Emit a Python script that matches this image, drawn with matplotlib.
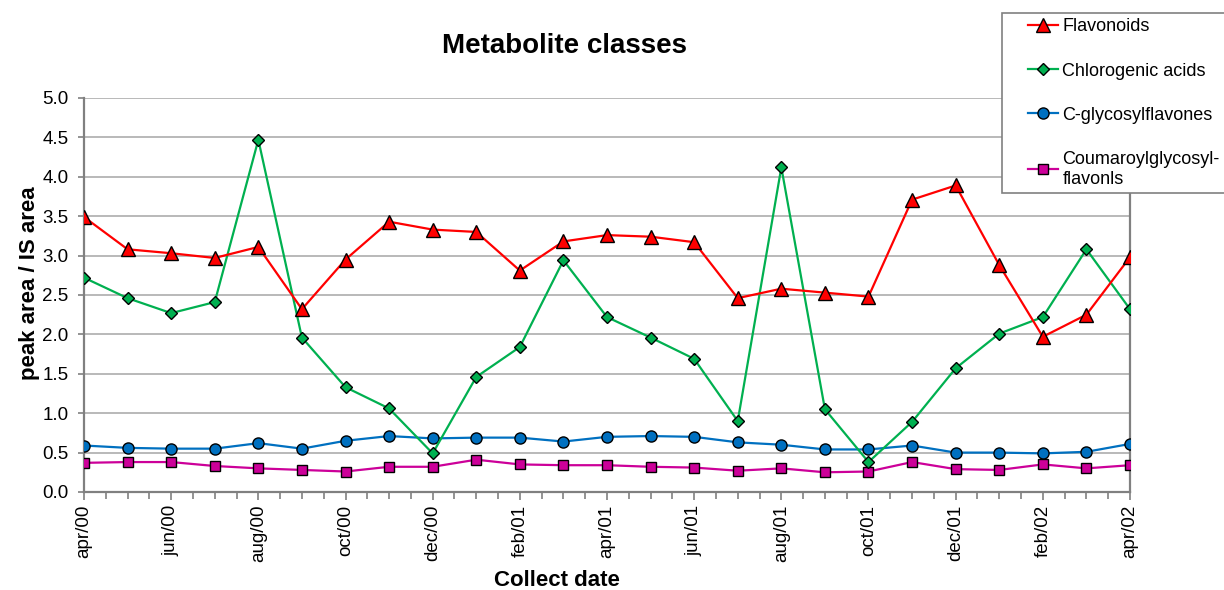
import matplotlib
matplotlib.use("Agg")
import matplotlib.pyplot as plt
from matplotlib.ticker import MultipleLocator
from matplotlib.legend_handler import HandlerLine2D

plt.rcParams['font.family'] = ['Liberation Sans', 'DejaVu Sans']

month_labels = ["apr/00", "may/00", "jun/00", "jul/00", "aug/00", "sep/00", "oct/00", "nov/00",
                "dec/00", "jan/01", "feb/01", "mar/01", "apr/01", "may/01", "jun/01", "jul/01",
                "aug/01", "sep/01", "oct/01", "nov/01", "dec/01", "jan/02", "feb/02", "mar/02", "apr/02"]

flavonoids = [3.49, 3.08, 3.03, 2.97, 3.11, 2.32, 2.95, 3.43, 3.33, 3.30, 2.81, 3.18, 3.26,
              3.24, 3.17, 2.46, 2.58, 2.53, 2.48, 3.71, 3.89, 2.88, 1.97, 2.25, 2.98]
chlorogenic = [2.72, 2.46, 2.27, 2.41, 4.47, 1.96, 1.33, 1.06, 0.49, 1.46, 1.84, 2.94, 2.22,
               1.96, 1.69, 0.90, 4.12, 1.05, 0.38, 0.89, 1.57, 2.01, 2.22, 3.08, 2.32]
cglyco = [0.59, 0.56, 0.55, 0.55, 0.62, 0.55, 0.65, 0.71, 0.68, 0.69, 0.69, 0.64, 0.70,
          0.71, 0.70, 0.63, 0.60, 0.54, 0.54, 0.59, 0.50, 0.50, 0.49, 0.51, 0.61]
coumaroyl = [0.37, 0.38, 0.38, 0.33, 0.30, 0.28, 0.26, 0.32, 0.32, 0.41, 0.35, 0.34, 0.34,
             0.32, 0.31, 0.27, 0.30, 0.25, 0.26, 0.38, 0.29, 0.28, 0.35, 0.30, 0.34]

x = list(range(len(month_labels)))

W, H = 1224, 590
fig = plt.figure(figsize=(W/100, H/100), dpi=100)
ax = fig.add_axes([84/W, 1 - 492/H, (1130-84)/W, (492-98)/H])

ax.plot(x, flavonoids, color='#FF0000', lw=1.6, marker='^', ms=9.5, mfc='#FF0000', mec='black', mew=1.0,
        label='Flavonoids', zorder=5)
ax.plot(x, chlorogenic, color='#00B050', lw=1.6, marker='D', ms=6, mfc='#00B050', mec='black', mew=1.0,
        label='Chlorogenic acids', zorder=4)
ax.plot(x, cglyco, color='#0070C0', lw=1.6, marker='o', ms=8, mfc='#0070C0', mec='black', mew=1.0,
        label='C-glycosylflavones', zorder=3)
ax.plot(x, coumaroyl, color='#CC0099', lw=1.6, marker='s', ms=7.5, mfc='#CC0099', mec='black', mew=1.0,
        label='Coumaroylglycosyl-\nflavonls', zorder=3)

ax.set_xlim(0, 24)
ax.set_ylim(0, 5)
ax.yaxis.set_major_locator(MultipleLocator(0.5))
ax.yaxis.set_major_formatter(matplotlib.ticker.FormatStrFormatter('%.1f'))
ax.set_xticks(x[::2])
ax.set_xticklabels(month_labels[::2], rotation=90)
ax.xaxis.set_minor_locator(MultipleLocator(0.5))

ax.grid(axis='y', color='#A6A6A6', lw=1.1)
ax.set_axisbelow(True)
for s in ax.spines.values():
    s.set_color('#808080')
    s.set_linewidth(1.6)
ax.spines['top'].set_visible(False)
ax.tick_params(axis='both', which='both', colors='#808080', labelcolor='black', labelsize=13.5,
               direction='out', width=1.2)
ax.tick_params(axis='x', which='major', length=6, pad=3)
ax.tick_params(axis='x', which='minor', length=5)
ax.tick_params(axis='y', which='major', length=4, pad=7)

fig.text(564/W, 1 - 46/H, 'Metabolite classes', fontsize=20, fontweight='bold', ha='center', va='center')
fig.text(557/W, 1 - 580/H, 'Collect date', fontsize=16, fontweight='bold', ha='center', va='center')
fig.text(30/W, 1 - 283/H, 'peak area / IS area', fontsize=16, fontweight='bold', ha='center', va='center',
         rotation=90)

fs = 13
handler = HandlerLine2D(xpad=1.15)
leg = fig.legend(loc='upper left', bbox_to_anchor=(1002/W, 1 - 13/H - 0.01, 260/W, 0.01), mode='expand',
                 fontsize=fs, frameon=True, fancybox=False, edgecolor='#808080', framealpha=1,
                 labelspacing=1.5, handlelength=2.8, handletextpad=0.25, borderpad=0.3,
                 borderaxespad=0,
                 handler_map={matplotlib.lines.Line2D: handler})
leg.get_frame().set_linewidth(1.2)
for t in leg.get_texts():
    t.set_linespacing(1.25)

fig.savefig('out.png', dpi=100)
